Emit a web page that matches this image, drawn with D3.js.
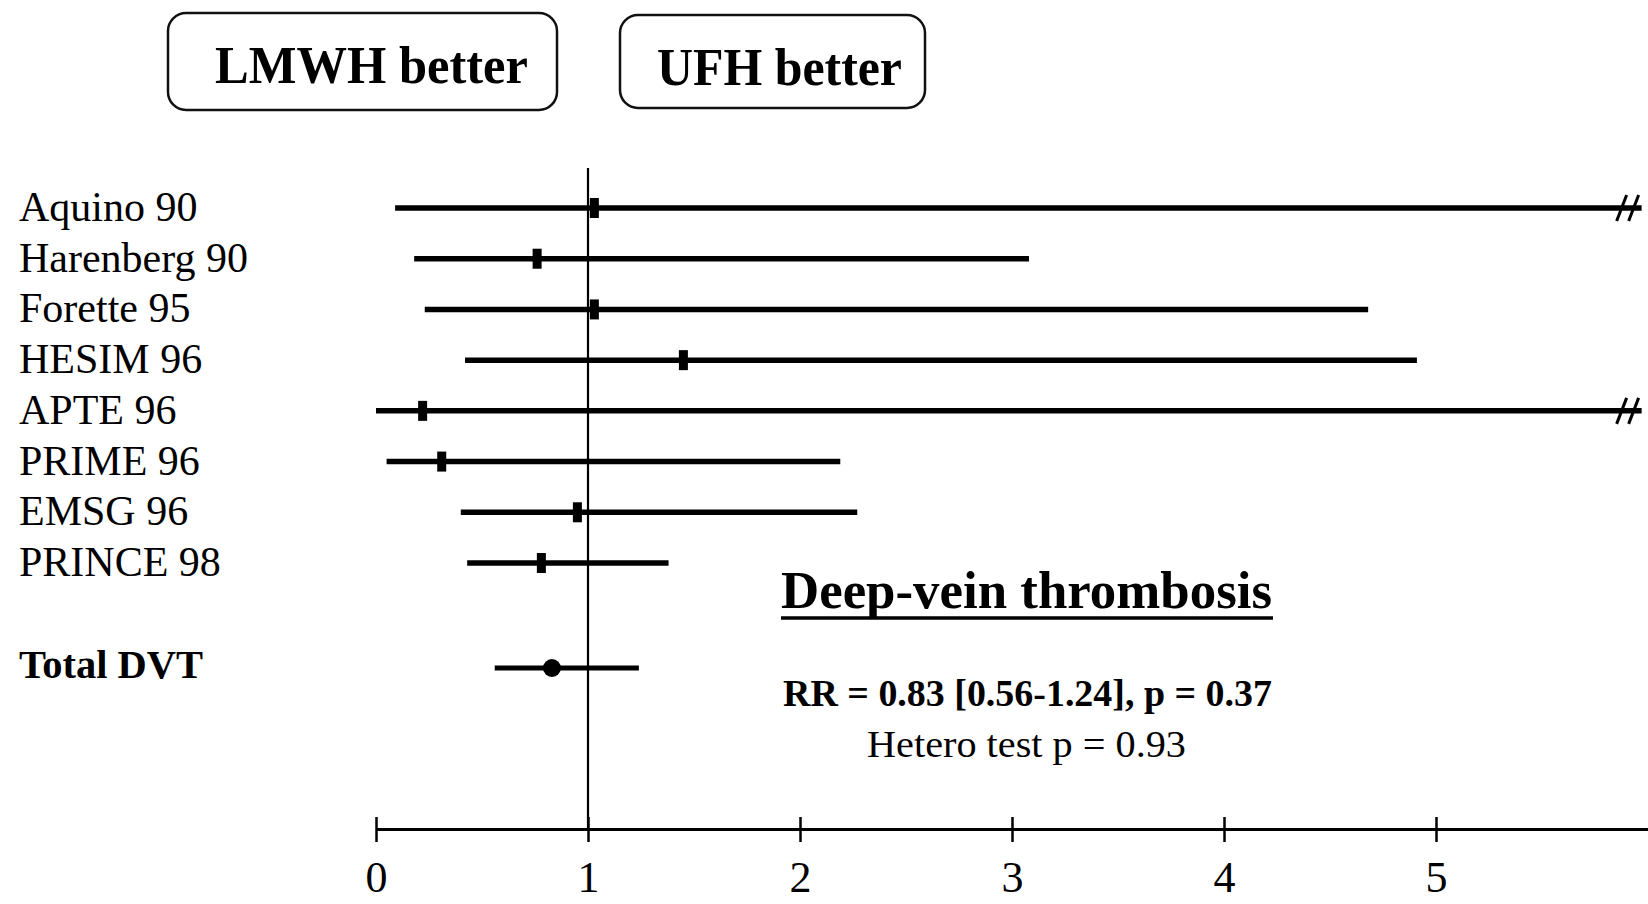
<!DOCTYPE html>
<html>
<head>
<meta charset="utf-8">
<script src="https://cdn.jsdelivr.net/npm/d3@7"></script>
<style>
  body { margin: 0; background: #fff; }
  svg { display: block; font-family: "Liberation Serif", "Times New Roman", serif; }
</style>
</head>
<body>
<div id="chart"></div>
<script>
// study names, point estimates and CI bounds
const studies = ["Aquino 90", "Harenberg 90", "Forette 95", "HESIM 96", "APTE 96", "PRIME 96", "EMSG 96", "PRINCE 98"];
const rr = [1.03, 0.76, 1.03, 1.45, 0.22, 0.31, 0.95, 0.78];
const lower = [0.09, 0.18, 0.23, 0.42, 0.0, 0.05, 0.40, 0.43];
const upper = [9.0, 3.08, 4.68, 4.91, 9.0, 2.19, 2.27, 1.38];

const totalLabel = "Total DVT";
const totalRR = 0.83, totalLower = 0.56, totalUpper = 1.24;

const tickValues = [0, 1, 2, 3, 4, 5];

const width = 1648, height = 904;

const svg = d3.select("#chart").append("svg")
  .attr("width", width)
  .attr("height", height);

const x = d3.scaleLinear().domain([0, 6]).range([376, 1648]);
const clipMax = 5.97; // values past this get the "//" break

const rowY = d3.scalePoint()
  .domain(d3.range(studies.length))
  .range([208, 563]);
const totalY = 668;
const axisY = 829;

// "better" boxes at the top
const boxes = [
  { label: "LMWH better", x: 168, y: 13, w: 389, h: 97, tx: 215, tl: 313 },
  { label: "UFH better", x: 620, y: 15, w: 305, h: 93, tx: 657, tl: 245 },
];

boxes.forEach((b) => {
  svg.append("rect")
    .attr("x", b.x).attr("y", b.y)
    .attr("width", b.w).attr("height", b.h)
    .attr("rx", 18)
    .attr("fill", "none")
    .attr("stroke", "#111")
    .attr("stroke-width", 2.5);
  svg.append("text")
    .attr("x", b.tx).attr("y", b.y + 70)
    .attr("font-size", 52)
    .attr("font-weight", "bold")
    .attr("textLength", b.tl)
    .attr("lengthAdjust", "spacingAndGlyphs")
    .text(b.label);
});

// reference line at RR = 1
svg.append("line")
  .attr("x1", x(1)).attr("x2", x(1))
  .attr("y1", 168).attr("y2", axisY)
  .attr("stroke", "#000")
  .attr("stroke-width", 2.2);

// study labels
svg.selectAll("text.study")
  .data(studies)
  .enter()
  .append("text")
  .attr("class", "study")
  .attr("x", 19)
  .attr("y", (d, i) => rowY(i) + 13)
  .attr("font-size", 42)
  .text((d) => d);

// CI lines
svg.selectAll("line.ci")
  .data(studies)
  .enter()
  .append("line")
  .attr("class", "ci")
  .attr("x1", (d, i) => x(lower[i]))
  .attr("x2", (d, i) => x(Math.min(upper[i], clipMax)))
  .attr("y1", (d, i) => rowY(i))
  .attr("y2", (d, i) => rowY(i))
  .attr("stroke", "#000")
  .attr("stroke-width", 5.5);

// break marks for intervals that run off the scale
studies.forEach((d, i) => {
  if (upper[i] <= clipMax) return;
  [0, 12].forEach((off) => {
    const bx = x(clipMax) - 20 + off;
    svg.append("line")
      .attr("x1", bx - 5).attr("y1", rowY(i) + 13)
      .attr("x2", bx + 5).attr("y2", rowY(i) - 13)
      .attr("stroke", "#000")
      .attr("stroke-width", 3);
  });
});

// point estimates
svg.selectAll("rect.pt")
  .data(studies)
  .enter()
  .append("rect")
  .attr("class", "pt")
  .attr("x", (d, i) => x(rr[i]) - 4.5)
  .attr("y", (d, i) => rowY(i) - 10)
  .attr("width", 9)
  .attr("height", 20)
  .attr("fill", "#000");

// pooled estimate
svg.append("text")
  .attr("x", 19).attr("y", totalY + 10)
  .attr("font-size", 40)
  .attr("font-weight", "bold")
  .attr("textLength", 184)
  .attr("lengthAdjust", "spacingAndGlyphs")
  .text(totalLabel);

svg.append("line")
  .attr("x1", x(totalLower)).attr("x2", x(totalUpper))
  .attr("y1", totalY).attr("y2", totalY)
  .attr("stroke", "#000")
  .attr("stroke-width", 5);

svg.append("circle")
  .attr("cx", x(totalRR)).attr("cy", totalY)
  .attr("r", 9)
  .attr("fill", "#000");

// x axis
const axis = svg.append("g")
  .attr("transform", `translate(0,${axisY})`)
  .call(d3.axisBottom(x)
    .tickValues(tickValues)
    .tickFormat(d3.format("d"))
    .tickSize(0)
    .tickPadding(0)
    .tickSizeOuter(0));

axis.select(".domain").attr("stroke", "#000").attr("stroke-width", 3);
axis.selectAll(".tick line")
  .attr("y1", -12).attr("y2", 13)
  .attr("stroke", "#000")
  .attr("stroke-width", 2.5);
axis.selectAll(".tick text")
  .attr("font-family", "'Liberation Serif', 'Times New Roman', serif")
  .attr("font-size", 44)
  .attr("fill", "#000")
  .attr("y", 63)
  .attr("dy", null);

// annotation
svg.append("text")
  .attr("x", 781).attr("y", 608)
  .attr("font-size", 52)
  .attr("font-weight", "bold")
  .attr("textLength", 491)
  .attr("lengthAdjust", "spacingAndGlyphs")
  .text("Deep-vein thrombosis");

svg.append("line")
  .attr("x1", 781).attr("x2", 1273)
  .attr("y1", 618).attr("y2", 618)
  .attr("stroke", "#000")
  .attr("stroke-width", 3.5);

svg.append("text")
  .attr("x", 783).attr("y", 706)
  .attr("font-size", 38)
  .attr("font-weight", "bold")
  .attr("textLength", 489)
  .attr("lengthAdjust", "spacingAndGlyphs")
  .text("RR = 0.83 [0.56-1.24], p = 0.37");

svg.append("text")
  .attr("x", 867).attr("y", 757)
  .attr("font-size", 37)
  .attr("textLength", 319)
  .attr("lengthAdjust", "spacingAndGlyphs")
  .text("Hetero test p = 0.93");
</script>
</body>
</html>
